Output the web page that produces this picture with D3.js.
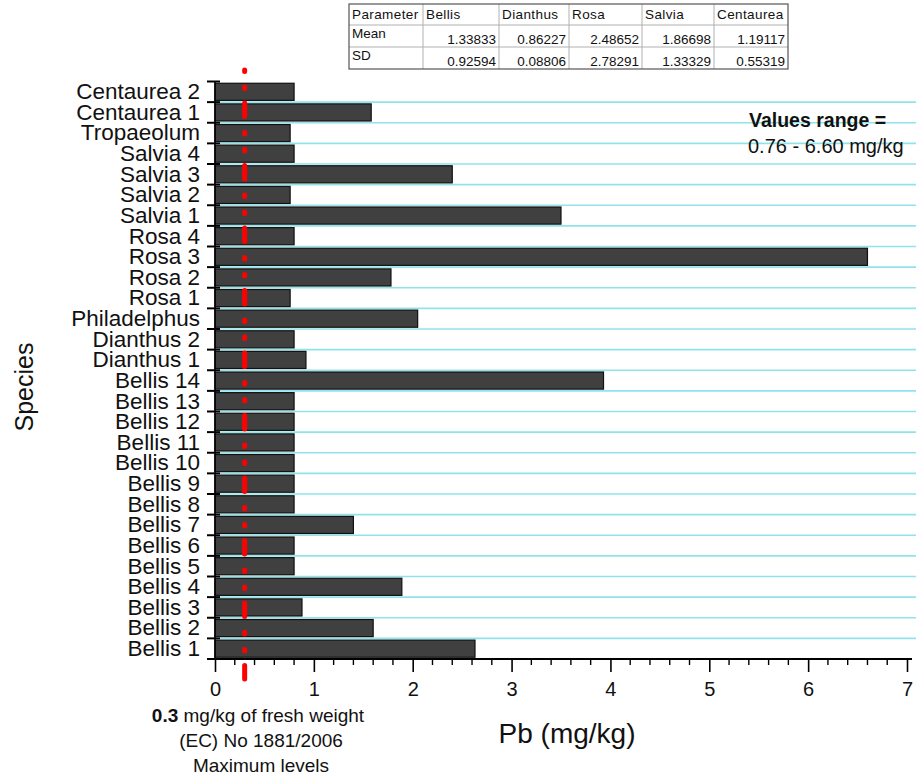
<!DOCTYPE html>
<html>
<head>
<meta charset="utf-8">
<script src="https://cdn.jsdelivr.net/npm/d3@7"></script>
<style>
  body { margin: 0; background: #fff; }
  svg { font-family: "Liberation Sans", Arial, sans-serif; display: block; }
</style>
</head>
<body>
<div class="container"></div>
<script>
// data (top of chart to bottom)
const species = [
  "Centaurea 2", "Centaurea 1", "Tropaeolum", "Salvia 4", "Salvia 3", "Salvia 2",
  "Salvia 1", "Rosa 4", "Rosa 3", "Rosa 2", "Rosa 1", "Philadelphus",
  "Dianthus 2", "Dianthus 1", "Bellis 14", "Bellis 13", "Bellis 12", "Bellis 11",
  "Bellis 10", "Bellis 9", "Bellis 8", "Bellis 7", "Bellis 6", "Bellis 5",
  "Bellis 4", "Bellis 3", "Bellis 2", "Bellis 1"
];
const pbValues = [
  0.80, 1.58, 0.76, 0.80, 2.40, 0.76,
  3.50, 0.80, 6.60, 1.78, 0.76, 2.05,
  0.80, 0.92, 3.93, 0.80, 0.80, 0.80,
  0.80, 0.80, 0.80, 1.40, 0.80, 0.80,
  1.89, 0.88, 1.60, 2.63
];
const xTicks = [0, 1, 2, 3, 4, 5, 6, 7];
const maxLevel = 0.3;

// summary table
const tableHeader = ["Parameter", "Bellis", "Dianthus", "Rosa", "Salvia", "Centaurea"];
const tableMean = ["1.33833", "0.86227", "2.48652", "1.86698", "1.19117"];
const tableSD = ["0.92594", "0.08806", "2.78291", "1.33329", "0.55319"];

const WIDTH = 916, HEIGHT = 778;
const MARGIN = { top: 81.5, right: 9, bottom: 119, left: 215 };

const svg = d3.select(".container")
  .append("svg")
  .attr("width", WIDTH)
  .attr("height", HEIGHT)
  .attr("viewBox", [0, 0, WIDTH, HEIGHT]);

const x = d3.scaleLinear()
  .domain([0, 7])
  .range([MARGIN.left, WIDTH - MARGIN.right]);

const y = d3.scaleBand()
  .domain(species)
  .range([MARGIN.top, HEIGHT - MARGIN.bottom])
  .paddingInner(0.17)
  .paddingOuter(0.085);

const step = y.step();
const y0 = y.range()[0], y1 = y.range()[1];
const boundaries = d3.range(species.length + 1).map((i) => y0 + i * step);

// cyan gridlines between rows
svg.append("g")
  .attr("stroke", "#8fe3ea")
  .attr("stroke-width", 1.6)
  .selectAll("line")
  .data(boundaries.slice(1, -1))
  .join("line")
  .attr("x1", x(0) + 5)
  .attr("x2", WIDTH)
  .attr("y1", (d) => d)
  .attr("y2", (d) => d);

// bars
svg.append("g")
  .selectAll("rect")
  .data(species.map((s, i) => ({ s, v: pbValues[i] })))
  .join("rect")
  .attr("x", x(0))
  .attr("y", (d) => y(d.s))
  .attr("width", (d) => x(d.v) - x(0))
  .attr("height", y.bandwidth())
  .attr("fill", "#404040")
  .attr("stroke", "#111")
  .attr("stroke-width", 1.2);

// y axis: line, boundary ticks, labels
svg.append("line")
  .attr("x1", x(0)).attr("x2", x(0))
  .attr("y1", y0).attr("y2", y1)
  .attr("stroke", "#000").attr("stroke-width", 1.6);

svg.append("g")
  .attr("stroke", "#000")
  .attr("stroke-width", 2)
  .selectAll("line")
  .data(boundaries)
  .join("line")
  .attr("x1", x(0) - 8)
  .attr("x2", x(0) + 5)
  .attr("y1", (d) => d)
  .attr("y2", (d) => d);

svg.append("g")
  .selectAll("text")
  .data(species)
  .join("text")
  .attr("x", 200)
  .attr("y", (d) => y(d) + y.bandwidth() / 2)
  .attr("dy", "0.33em")
  .attr("text-anchor", "end")
  .attr("font-size", 22.5)
  .attr("fill", "#111")
  .text((d) => d);

// x axis
const xAxisG = svg.append("g")
  .attr("transform", `translate(0, ${y1})`)
  .call(d3.axisBottom(x).tickValues(xTicks).tickFormat(d3.format("d"))
    .tickSize(13).tickSizeOuter(0).tickPadding(10));
xAxisG.select(".domain").remove();
xAxisG.selectAll(".tick line").attr("stroke-width", 1.6);
xAxisG.selectAll(".tick text")
  .attr("font-size", 20)
  .attr("font-family", "Liberation Sans, Arial, sans-serif")
  .attr("fill", "#111");

svg.append("g")
  .attr("transform", `translate(0, ${y1})`)
  .attr("stroke", "#000")
  .attr("stroke-width", 1.4)
  .selectAll("line")
  .data(d3.range(0, 7.01, 0.2).filter((v) => Math.abs(v - Math.round(v)) > 0.01))
  .join("line")
  .attr("x1", (d) => x(d)).attr("x2", (d) => x(d))
  .attr("y1", 0).attr("y2", 6);

svg.append("line")
  .attr("x1", x(0)).attr("x2", 912)
  .attr("y1", y1).attr("y2", y1)
  .attr("stroke", "#000").attr("stroke-width", 1.8);

// red max-level line
svg.append("line")
  .attr("x1", x(maxLevel)).attr("x2", x(maxLevel))
  .attr("y1", 70).attr("y2", 680)
  .attr("stroke", "#ff0000")
  .attr("stroke-width", 5)
  .attr("stroke-linecap", "round")
  .attr("stroke-dasharray", "1.5 15.5 1.5 14.5 13.5 16");

// axis titles
svg.append("text")
  .attr("x", 567).attr("y", 743)
  .attr("text-anchor", "middle")
  .attr("font-size", 28)
  .attr("fill", "#111")
  .text("Pb (mg/kg)");

svg.append("text")
  .attr("transform", "translate(33, 387) rotate(-90)")
  .attr("text-anchor", "middle")
  .attr("font-size", 25)
  .attr("fill", "#111")
  .text("Species");

// footnote under axis
const note = svg.append("g").attr("font-size", 19).attr("fill", "#111").attr("text-anchor", "middle");
const l1 = note.append("text").attr("x", 258).attr("y", 722);
l1.append("tspan").attr("font-weight", "bold").text("0.3");
l1.append("tspan").text(" mg/kg of fresh weight");
note.append("text").attr("x", 261).attr("y", 747).text("(EC) No 1881/2006");
note.append("text").attr("x", 261).attr("y", 772).text("Maximum levels");

// values range annotation
svg.append("text")
  .attr("x", 749).attr("y", 127)
  .attr("font-size", 19.5).attr("font-weight", "bold").attr("fill", "#111")
  .text("Values range =");
svg.append("text")
  .attr("x", 748).attr("y", 153)
  .attr("font-size", 20).attr("fill", "#111")
  .text("0.76 - 6.60 mg/kg");

// summary table
const colX = [349, 423, 499, 569, 642, 714, 788];
const rowY = [4, 25, 47, 69];
const table = svg.append("g").attr("font-size", 13.5).attr("fill", "#111");

table.append("g")
  .attr("stroke", "#b0b0b0").attr("stroke-width", 1)
  .call((g) => {
    g.selectAll(".v").data(colX.slice(1, -1)).join("line")
      .attr("x1", (d) => d).attr("x2", (d) => d)
      .attr("y1", rowY[0]).attr("y2", rowY[3]);
    g.selectAll(".h").data(rowY.slice(1, -1)).join("line")
      .attr("x1", colX[0]).attr("x2", colX[6])
      .attr("y1", (d) => d).attr("y2", (d) => d);
  });
table.append("rect")
  .attr("x", colX[0]).attr("y", rowY[0])
  .attr("width", colX[6] - colX[0]).attr("height", rowY[3] - rowY[0])
  .attr("fill", "none").attr("stroke", "#555").attr("stroke-width", 1.2);

table.selectAll(".hdr").data(tableHeader).join("text")
  .attr("x", (d, i) => colX[i] + 3).attr("y", 19)
  .attr("letter-spacing", 0.4)
  .text((d) => d);
table.append("text").attr("x", colX[0] + 3).attr("y", 38).text("Mean");
table.append("text").attr("x", colX[0] + 3).attr("y", 60).text("SD");
table.selectAll(".mean").data(tableMean).join("text")
  .attr("x", (d, i) => colX[i + 2] - 3).attr("y", 44)
  .attr("text-anchor", "end").text((d) => d);
table.selectAll(".sd").data(tableSD).join("text")
  .attr("x", (d, i) => colX[i + 2] - 3).attr("y", 65.5)
  .attr("text-anchor", "end").text((d) => d);
</script>
</body>
</html>
